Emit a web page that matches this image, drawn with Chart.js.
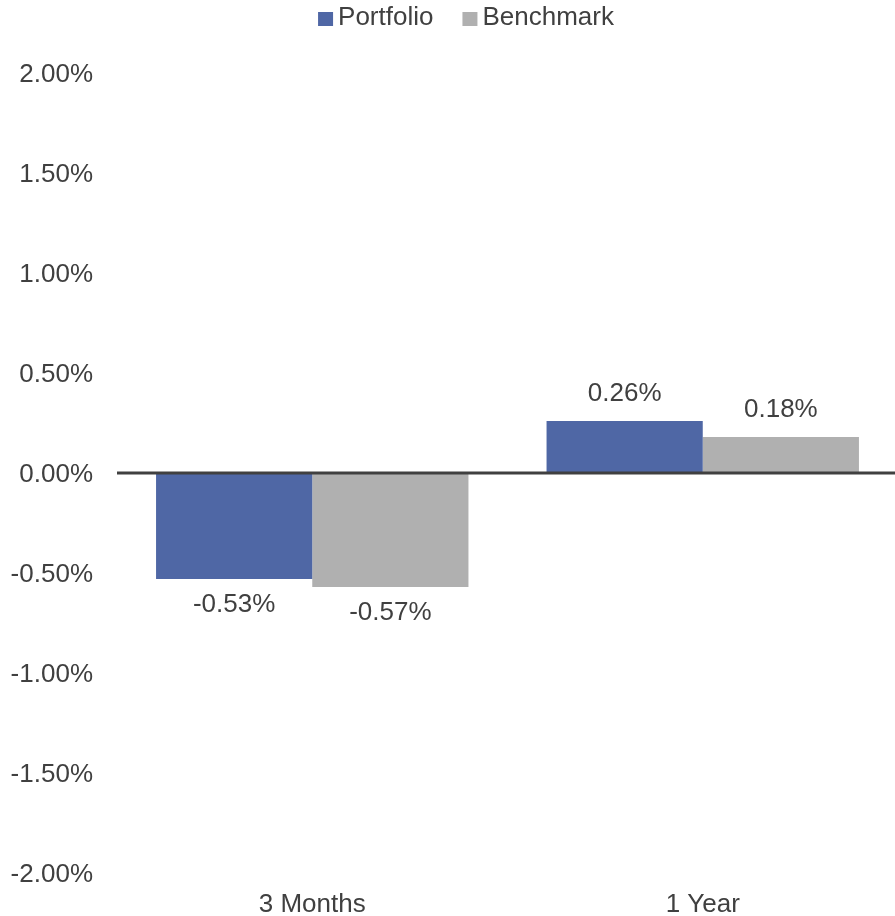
<!DOCTYPE html>
<html>
<head>
<meta charset="utf-8">
<script src="https://cdn.jsdelivr.net/npm/chart.js@4.4.1/dist/chart.umd.min.js"></script>
<style>
html,body{margin:0;padding:0;background:#fff;overflow:hidden;}
#wrap{width:895px;height:916px;position:relative;overflow:hidden;}
</style>
</head>
<body>
<div id="wrap"><canvas id="c" width="898" height="916"></canvas></div>
<script>
const categories = ['3 Months', '1 Year'];
const seriesNames = ['Portfolio', 'Benchmark'];
const portfolioValues = [-0.53, 0.26];
const benchmarkValues = [-0.57, 0.18];
const yTickMin = -2.0;
const yTickMax = 2.0;
const yTickStep = 0.5;

const TEXT = '#404040';
const FONT = 'Liberation Sans, Arial, sans-serif';
const colors = ['#4F67A5', '#B0B0B0'];

const fmt = v => v.toFixed(2) + '%';

const overlay = {
  id: 'overlay',
  afterDatasetsDraw(chart) {
    const ctx = chart.ctx;
    const y = chart.scales.y;
    const area = chart.chartArea;
    // zero line
    const y0 = y.getPixelForValue(0);
    ctx.save();
    ctx.strokeStyle = TEXT;
    ctx.lineWidth = 3;
    ctx.beginPath();
    ctx.moveTo(area.left, y0);
    ctx.lineTo(area.right, y0);
    ctx.stroke();
    // data labels
    ctx.fillStyle = TEXT;
    ctx.font = '26px ' + FONT;
    ctx.textAlign = 'center';
    ctx.textBaseline = 'middle';
    chart.data.datasets.forEach((ds, di) => {
      const meta = chart.getDatasetMeta(di);
      meta.data.forEach((bar, i) => {
        const v = ds.data[i];
        const yy = v >= 0 ? bar.y - 27 : bar.y + 26;
        ctx.fillText(fmt(v), bar.x, yy);
      });
    });
    // legend
    ctx.textAlign = 'left';
    const box = 15, gap = 5, itemGap = 29;
    const widths = chart.data.datasets.map(d => ctx.measureText(d.label).width);
    let total = 0;
    widths.forEach((w, i) => { total += box + gap + w + (i ? itemGap : 0); });
    let x = 466 - total / 2;
    const ly = 18;
    chart.data.datasets.forEach((d, i) => {
      ctx.fillStyle = d.backgroundColor;
      ctx.fillRect(x, ly - 6, box, 14);
      ctx.fillStyle = TEXT;
      ctx.fillText(d.label, x + box + gap, ly);
      x += box + gap + widths[i] + itemGap;
    });
    ctx.restore();
  }
};

new Chart(document.getElementById('c'), {
  type: 'bar',
  data: {
    labels: categories,
    datasets: [
      { label: seriesNames[0], data: portfolioValues, backgroundColor: colors[0] },
      { label: seriesNames[1], data: benchmarkValues, backgroundColor: colors[1] }
    ]
  },
  options: {
    responsive: false,
    animation: false,
    devicePixelRatio: 1,
    layout: { padding: { top: 73, right: 0, bottom: 0, left: 0 } },
    datasets: { bar: { barPercentage: 1.0, categoryPercentage: 0.8 } },
    plugins: { legend: { display: false }, tooltip: { enabled: false } },
    scales: {
      x: {
        grid: { display: false, drawTicks: false },
        border: { display: false },
        ticks: { color: TEXT, font: { family: FONT, size: 26 }, padding: 16 },
        afterFit(s) { s.height = 43; }
      },
      y: {
        min: yTickMin,
        max: yTickMax,
        grid: { display: false, drawTicks: false },
        border: { display: false },
        ticks: {
          stepSize: yTickStep,
          color: TEXT,
          font: { family: FONT, size: 26 },
          padding: 24,
          labelOffset: 2,
          callback: v => fmt(v)
        },
        afterFit(s) { s.width = 117; }
      }
    }
  },
  plugins: [overlay]
});
</script>
</body>
</html>
